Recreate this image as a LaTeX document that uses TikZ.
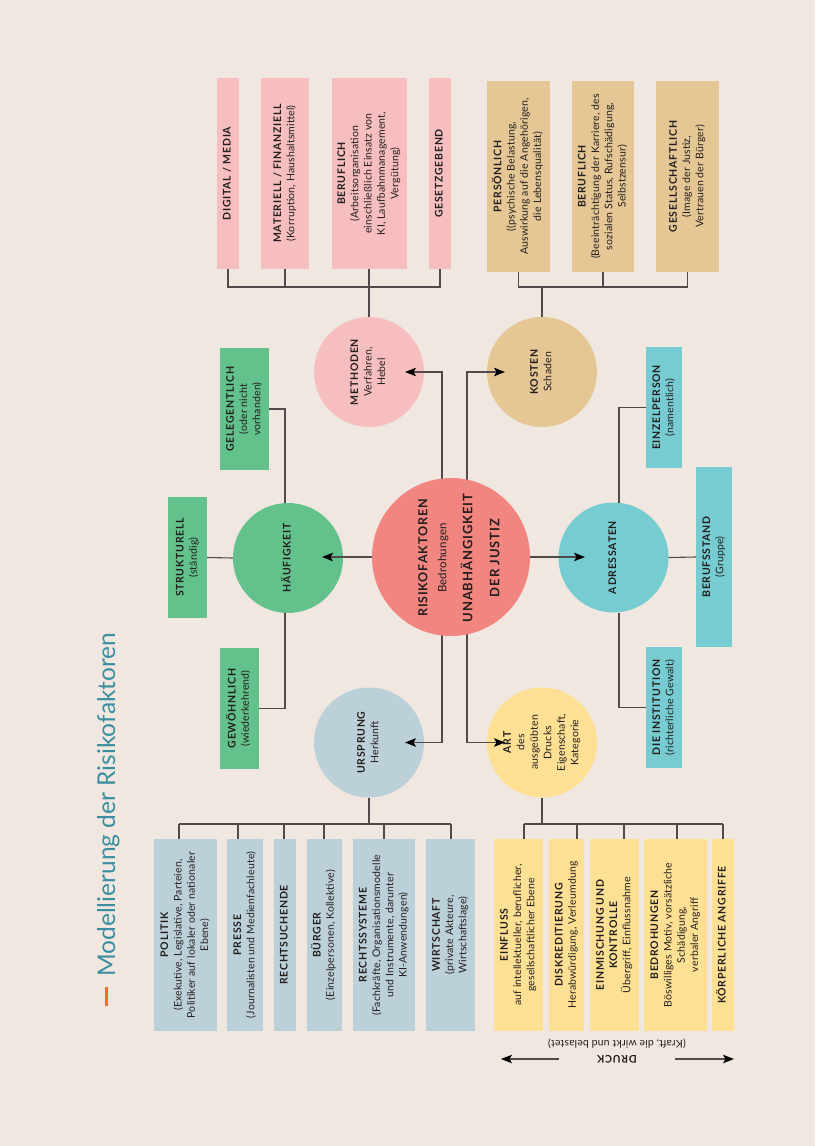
\documentclass[tikz,border=0pt]{standalone}
\usepackage{fontspec}
\usepackage{graphicx}
\usetikzlibrary{arrows.meta}
\setmainfont{Lato}
\newfontfamily\hdfont{Lato}[LetterSpace=7]
\newfontfamily\txfont{Lato}[LetterSpace=1.5]
\definecolor{bgc}{RGB}{240,232,224}
\definecolor{ctrc}{RGB}{241,133,127}
\definecolor{pinkc}{RGB}{246,190,190}
\definecolor{tanc}{RGB}{228,199,149}
\definecolor{greenc}{RGB}{99,193,139}
\definecolor{cyanc}{RGB}{118,204,208}
\definecolor{bluec}{RGB}{188,208,218}
\definecolor{yellc}{RGB}{253,224,148}
\definecolor{linec}{RGB}{82,74,74}
\definecolor{titlec}{RGB}{58,142,160}
\definecolor{orangec}{RGB}{238,110,50}
\definecolor{textc}{RGB}{35,30,30}
\newcommand{\rt}[1]{\rotatebox{90}{\begin{tabular}{@{}c@{}}#1\end{tabular}}}
\newcommand{\hb}[1]{{\hdfont\bfseries #1}}
\begin{document}
\begin{tikzpicture}[x=1pt,y=-1pt,
  conn/.style={draw=linec,line width=1.1pt},
  arr/.style={-{Stealth[length=11pt,width=8.5pt,inset=2.5pt,color=black]}},
  bx/.style 2 args={rectangle,inner sep=0pt,outer sep=0pt,minimum width=#1,minimum height=#2,text=textc,font=\txfont\fontsize{10.5}{13.3}\selectfont},
  circ/.style={circle,inner sep=0pt,outer sep=0pt,minimum size=110pt,text=textc,font=\txfont\fontsize{10.5}{13.5}\selectfont}
]
\fill[bgc] (0,0) rectangle (815,1146);
\useasboundingbox (0,0) rectangle (815,1146);

% title
\node[rotate=90,anchor=base,text=titlec,font=\fontsize{24.5}{29}\selectfont,inner sep=0pt] (title) at (115,819.5) {\textcolor{orangec}{\rule[0.3em]{0.78em}{0.12em}}\hspace{0.42em}Modellierung der Risikofaktoren};

% circles
\node[circ,fill=pinkc] (m) at (369,372) {\rt{\hb{METHODEN}\\Verfahren,\\Hebel}};
\node[circ,fill=tanc] (k) at (542,372) {\rt{\hb{KOSTEN}\\Schaden}};
\node[circ,fill=greenc] (h) at (288,558) {\rt{\hb{HÄUFIGKEIT}}};
\node[circ,fill=cyanc] (a) at (613.5,557.5) {\rt{\hb{ADRESSATEN}}};
\node[circ,fill=bluec] (u) at (369,742.5) {\rt{\hb{URSPRUNG}\\Herkunft}};
\node[circ,fill=yellc] (art) at (542,742.5) {\rt{\hb{ART}\\des\\ausgeübten\\Drucks\\Eigenschaft,\\Kategorie}};

% pink boxes
\node[bx={22pt}{191pt},fill=pinkc] (dig) at (228,173.5) {\rt{\hb{DIGITAL / MEDIA}}};
\node[bx={48pt}{191pt},fill=pinkc] (mat) at (285,173.5) {\rt{\hb{MATERIELL / FINANZIELL}\\(Korruption, Haushaltsmittel)}};
\node[bx={75pt}{191pt},fill=pinkc] (ber) at (369,173.5) {\rt{\hb{BERUFLICH}\\(Arbeitsorganisation\\einschließlich Einsatz von\\KI, Laufbahnmanagement,\\Vergütung)}};
\node[bx={22pt}{191pt},fill=pinkc] (gsz) at (440,173.5) {\rt{\hb{GESETZGEBEND}}};

% tan boxes
\node[bx={63pt}{191pt},fill=tanc] (per) at (518.5,176.5) {\rt{\hb{PERSÖNLICH}\\((psychische Belastung,\\Auswirkung auf die Angehörigen,\\die Lebensqualität)}};
\node[bx={62pt}{191pt},fill=tanc] (ber2) at (603,176.5) {\rt{\hb{BERUFLICH}\\(Beeinträchtigung der Karriere, des\\sozialen Status, Rufschädigung,\\Selbstzensur)}};
\node[bx={63pt}{191pt},fill=tanc] (gsl) at (687.5,176.5) {\rt{\hb{GESELLSCHAFTLICH}\\(Image der Justiz,\\Vertrauen der Bürger)}};

% green boxes
\node[bx={49pt}{122pt},fill=greenc] (gel) at (244.5,409) {\rt{\hb{GELEGENTLICH}\\(oder nicht\\vorhanden)}};
\node[bx={39pt}{121pt},fill=greenc] (str) at (187.5,557.5) {\rt{\hb{STRUKTURELL}\\(ständig)}};
\node[bx={39pt}{121pt},fill=greenc] (gew) at (239.5,708.5) {\rt{\hb{GEWÖHNLICH}\\(wiederkehrend)}};

% cyan boxes
\node[bx={36pt}{121pt},fill=cyanc] (ein) at (664,407.5) {\rt{\hb{EINZELPERSON}\\(namentlich)}};
\node[bx={36pt}{180pt},fill=cyanc] (bst) at (714,557) {\rt{\hb{BERUFSSTAND}\\(Gruppe)}};
\node[bx={36pt}{121pt},fill=cyanc] (ins) at (664,707.5) {\rt{\hb{DIE INSTITUTION}\\(richterliche Gewalt)}};

% blue boxes
\node[bx={63pt}{192pt},fill=bluec] (pol) at (185.5,935) {\rt{\hb{POLITIK}\\(Exekutive, Legislative, Parteien,\\Politiker auf lokaler oder nationaler\\Ebene)}};
\node[bx={36pt}{192pt},fill=bluec] (pre) at (245,935) {\rt{\hb{PRESSE}\\(Journalisten und Medienfachleute)}};
\node[bx={22pt}{192pt},fill=bluec] (rec) at (285,935) {\rt{\hb{RECHTSUCHENDE}}};
\node[bx={35pt}{192pt},fill=bluec] (bur) at (324.5,935) {\rt{\hb{BÜRGER}\\(Einzelpersonen, Kollektive)}};
\node[bx={62pt}{192pt},fill=bluec] (rs) at (384,935) {\rt{\hb{RECHTSSYSTEME}\\(Fachkräfte, Organisationsmodelle\\und Instrumente, darunter\\KI-Anwendungen)}};
\node[bx={49pt}{192pt},fill=bluec] (wir) at (450.5,935) {\rt{\hb{WIRTSCHAFT}\\(private Akteure,\\Wirtschaftslage)}};

% yellow boxes
\node[bx={49pt}{192pt},fill=yellc] (ein2) at (518.5,935) {\rt{\hb{EINFLUSS}\\auf intellektueller, beruflicher,\\gesellschaftlicher Ebene}};
\node[bx={35pt}{192pt},fill=yellc] (dis) at (566.5,935) {\rt{\hb{DISKREDITIERUNG}\\Herabwürdigung, Verleumdung}};
\node[bx={49pt}{192pt},fill=yellc] (emk) at (614.5,935) {\rt{\hb{EINMISCHUNG UND}\\\hb{KONTROLLE}\\Übergriff, Einflussnahme}};
\node[bx={63pt}{192pt},fill=yellc] (bed) at (675.5,935) {\rt{\hb{BEDROHUNGEN}\\Böswilliges Motiv, vorsätzliche\\Schädigung,\\verbaler Angriff}};
\node[bx={22pt}{192pt},fill=yellc] (kor) at (723,935) {\rt{\hb{KÖRPERLICHE ANGRIFFE}}};

% connectors: METHODEN
\coordinate (mb) at (369,287);
\draw[conn] (dig.south) |- (mb) -| (gsz.south);
\draw[conn] (mat.south) -- (mat.south |- mb);
\draw[conn] (ber.south) -- (m.north);

% KOSTEN
\coordinate (kb) at (542,287);
\draw[conn] (per.south) |- (kb) -| (gsl.south);
\draw[conn] (ber2.south) -- (ber2.south |- kb);
\draw[conn] (k.north) -- (kb);

% HAEUFIGKEIT
\coordinate (hl) at (285,558);
\draw[conn] (h.north -| hl) |- (gel.east);
\draw[conn] (h.west) -- (str.east);
\draw[conn] (h.south -| hl) |- (gew.east);

% ADRESSATEN
\coordinate (al) at (619,557);
\draw[conn] (a.north -| al) |- (ein.west);
\draw[conn] (a.east) -- (bst.west);
\draw[conn] (a.south -| al) |- (ins.west);

% URSPRUNG
\coordinate (ub) at (369,824);
\coordinate (d1) at (179,824);
\coordinate (d2) at (238,824);
\coordinate (d3) at (284,824);
\coordinate (d4) at (324,824);
\coordinate (d5) at (384,824);
\coordinate (d6) at (451,824);
\draw[conn] (u.south) -- (ub);
\draw[conn] (d1) -- (d6);
\foreach \c/\n in {d1/pol,d2/pre,d3/rec,d4/bur,d5/rs,d6/wir} \draw[conn] (\c) -- (\c |- \n.north);

% ART
\coordinate (yb) at (542,824);
\coordinate (e1) at (524,824);
\coordinate (e2) at (577,824);
\coordinate (e3) at (624,824);
\coordinate (e4) at (677,824);
\coordinate (e5) at (723,824);
\draw[conn] (art.south) -- (yb);
\draw[conn] (e1) -- (e5);
\foreach \c/\n in {e1/ein2,e2/dis,e3/emk,e4/bed,e5/kor} \draw[conn] (\c) -- (\c |- \n.north);

% DRUCK
\node[inner sep=0pt,text=textc,font=\hdfont\bfseries\fontsize{10.5}{12}\selectfont] (druck) at (617,1059) {\rotatebox{180}{DRUCK}};
\node[inner sep=0pt,text=textc,font=\txfont\fontsize{10.5}{12}\selectfont] (kraft) at (617,1044) {\rotatebox{180}{(Kraft, die wirkt und belastet)}};
\coordinate (dl) at (501,1059);
\coordinate (dr) at (734,1059);
\draw[conn,arr] ([xshift=-38pt]druck.west) -- (dl);
\draw[conn,arr] ([xshift=38pt]druck.east) -- (dr);

% center connectors
\coordinate (c0) at (451,557);
\coordinate (vl) at (442,557);
\coordinate (vr) at (467,557);
\coordinate (tm) at (405,372);
\coordinate (tk) at (505,372);
\coordinate (tu) at (405,742.5);
\coordinate (ta) at (505,742.5);
\coordinate (th) at (322,557);
\coordinate (tad) at (585,557);
\draw[conn,arr] (vl) |- (tm);
\draw[conn,arr] (vr) |- (tk);
\draw[conn,arr] (vl) |- (tu);
\draw[conn,arr] (vr) |- (ta);
\draw[conn,arr] (c0) -- (th);
\draw[conn,arr] (c0) -- (tad);

% center circle
\node[circle,fill=ctrc,minimum size=158pt,inner sep=0pt] (ctr) at (c0) {};
\node[text=textc,inner sep=0pt,font=\hdfont\bfseries\fontsize{12.5}{19}\selectfont] (ctrtxt) at (459.5,558) {\rt{RISIKOFAKTOREN\\{\txfont\mdseries\fontsize{11.5}{19}\selectfont Bedrohungen}\\[7pt]{\fontsize{13}{19}\selectfont UNABHÄNGIGKEIT}\\[8pt]{\fontsize{13}{19}\selectfont DER JUSTIZ}}};
\end{tikzpicture}
\end{document}
